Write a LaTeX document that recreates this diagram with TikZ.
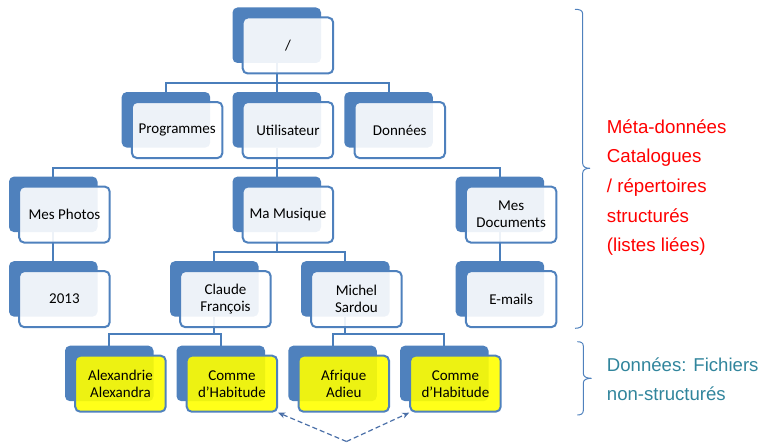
\documentclass[tikz,border=0pt]{standalone}
\usepackage{fontspec}
\newfontfamily\carlito{Carlito}
\newfontfamily\libsans{Liberation Sans}
\usetikzlibrary{calc,arrows.meta}
\pgfdeclarelayer{bg}
\pgfsetlayers{bg,main}
\definecolor{sablue}{HTML}{4F81BD}
\definecolor{conncol}{HTML}{4A7EBB}
\definecolor{arrcol}{HTML}{4A6FA8}
\definecolor{tealtxt}{HTML}{31859C}
\definecolor{redtxt}{HTML}{FF0000}
\definecolor{ylw}{HTML}{FFFF00}
\tikzset{
 backbox/.style={fill=sablue, rounded corners=5pt, minimum width=88.5pt, minimum height=55.5pt, inner sep=0pt, outer sep=0pt},
 frontbox/.style={draw=sablue, line width=2pt, fill=white, fill opacity=0.9, text opacity=1, rounded corners=5pt, minimum width=90.5pt, minimum height=56pt, inner sep=0pt, align=center, font=\carlito\fontsize{15}{17}\selectfont},
 yfront/.style={frontbox, fill=ylw},
 conn/.style={draw=conncol, line width=2pt},
 dasharrow/.style={draw=arrcol, line width=1.2pt, dash pattern=on 5pt off 3pt, -{Stealth[length=7pt,width=6pt]}},
 bracestyle/.style={draw=sablue, line width=1pt},
 redlabel/.style={text=redtxt, font=\libsans\fontsize{18.7}{22}\selectfont, inner sep=0pt, anchor=base west},
 teallabel/.style={text=tealtxt, font=\libsans\fontsize{18.6}{22}\selectfont, inner sep=0pt, anchor=base west},
}
\newcommand\tbox[5]{%
 \node[backbox, anchor=north west] (#1B) at (#2,#3) {};
 \node[#5, anchor=north west] (#1) at ($(#1B.north west)+(9.2,9)$) {#4};
}
\begin{document}
\begin{tikzpicture}[x=1pt,y=-1pt]
\useasboundingbox (0,0) rectangle (759,443);
\tbox{root}{232.5}{7.5}{/}{frontbox}
\tbox{prog}{121.7}{92.05}{Programmes}{frontbox}
\tbox{util}{232.5}{92.05}{Utilisateur}{frontbox}
\tbox{donn}{344.3}{92.05}{Données}{frontbox}
\tbox{photos}{9}{176.6}{Mes Photos}{frontbox}
\tbox{musique}{232.5}{176.6}{Ma Musique}{frontbox}
\tbox{docs}{455.7}{176.6}{Mes\\Documents}{frontbox}
\tbox{annee}{9}{261.15}{2013}{frontbox}
\tbox{claude}{170}{261.15}{Claude\\François}{frontbox}
\tbox{michel}{301}{261.15}{Michel\\Sardou}{frontbox}
\tbox{emails}{455.7}{261.15}{E-mails}{frontbox}
\tbox{alex}{65}{345.7}{Alexandrie\\Alexandra}{yfront}
\tbox{commeA}{176.5}{345.7}{Comme\\d’Habitude}{yfront}
\tbox{afrique}{288.3}{345.7}{Afrique\\Adieu}{yfront}
\tbox{commeB}{400}{345.7}{Comme\\d’Habitude}{yfront}
\begin{pgfonlayer}{bg}
\draw[conn] (rootB.south) -- ++(0,19.7) -| (progB.north);
\draw[conn] (rootB.south) -- ++(0,19.7) -| (donnB.north);
\draw[conn] (rootB.south) -- (utilB.north);
\draw[conn] (utilB.south) -- ++(0,20) -| (photosB.north);
\draw[conn] (utilB.south) -- ++(0,20) -| (docsB.north);
\draw[conn] (utilB.south) -- (musiqueB.north);
\draw[conn] (photosB.south) -- (anneeB.north);
\draw[conn] (docsB.south) -- (emailsB.north);
\draw[conn] (musiqueB.south) -- ++(0,19.5) -| (claudeB.north);
\draw[conn] (musiqueB.south) -- ++(0,19.5) -| (michelB.north);
\draw[conn] (claudeB.south) -- ++(0,17.5) -| (alexB.north);
\draw[conn] (claudeB.south) -- ++(0,17.5) -| (commeAB.north);
\draw[conn] (michelB.south) -- ++(0,17.5) -| (afriqueB.north);
\draw[conn] (michelB.south) -- ++(0,17.5) -| (commeBB.north);
\end{pgfonlayer}
\coordinate (apex) at (346.5,441.5);
\draw[dasharrow] (apex) -- (commeA.south east);
\draw[dasharrow] (apex) -- (commeB.south west);
\draw[bracestyle] (575,9.3) .. controls (579,9.3) and (582.7,10) .. (582.7,14) -- (582.7,163.5) .. controls (582.7,167) and (586,168.3) .. (590,168.3) .. controls (586,168.3) and (582.7,169.5) .. (582.7,173) -- (582.7,323.5) .. controls (582.7,327) and (579,328.3) .. (575,328.3);
\draw[bracestyle] (577.3,341.7) .. controls (580.5,341.7) and (583.3,342.5) .. (583.3,346) -- (583.3,373.5) .. controls (583.3,377) and (587,378.3) .. (591.5,378.3) .. controls (587,378.3) and (583.3,379.5) .. (583.3,383) -- (583.3,410.5) .. controls (583.3,414) and (580.5,415) .. (577.3,415);
\node[redlabel] (r1) at (606.7,133.5) {Méta-données};
\node[redlabel] (r2) at (606.7,163) {Catalogues};
\node[redlabel] (r3) at (606.7,192.8) {/ répertoires};
\node[redlabel] (r4) at (606.7,222.4) {structurés};
\node[redlabel] (r5) at (606.7,252) {(listes liées)};
\node[teallabel] (t1) at (606.7,371.5) {Données: Fichiers};
\node[teallabel] (t2) at (606.7,400.5) {non-structurés};
\end{tikzpicture}
\end{document}
